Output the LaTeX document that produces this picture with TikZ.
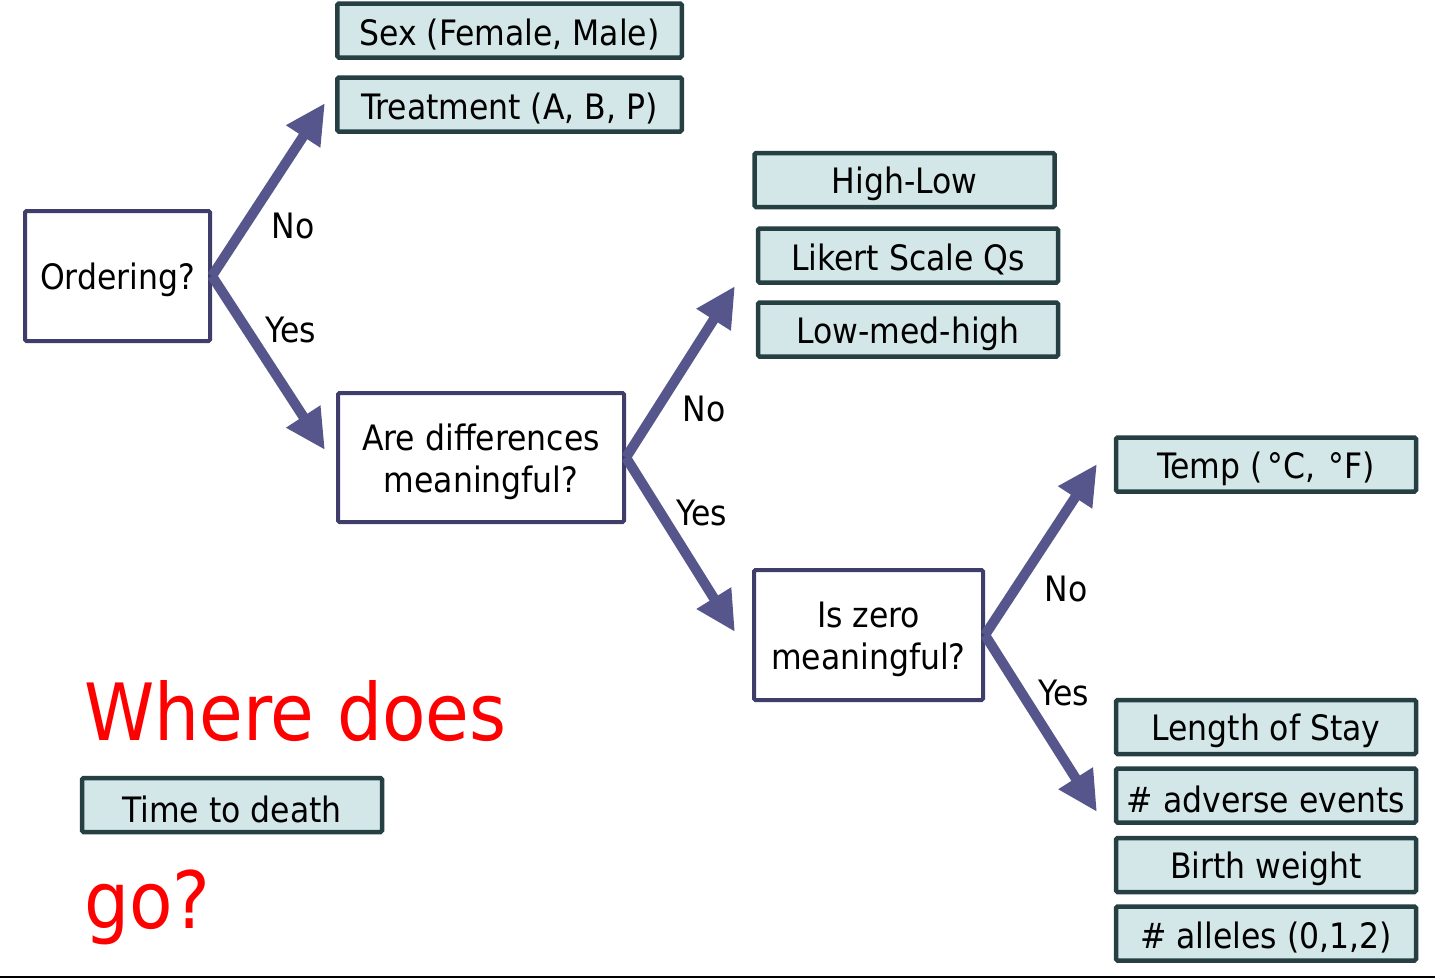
\documentclass[tikz,border=0pt]{standalone}
\usepackage{fontspec}
\setmainfont{DejaVu Sans Condensed}
\usetikzlibrary{arrows.meta}
\definecolor{ansfill}{HTML}{D4E7E8}
\definecolor{ansdraw}{HTML}{253F43}
\definecolor{qdraw}{HTML}{3F3D6A}
\definecolor{arrcol}{HTML}{56568C}
\newcommand\lowtxt[1]{\raisebox{-4pt}[\height][\depth]{#1}}
\begin{document}
\begin{tikzpicture}[x=1pt,y=-1pt,
  every node/.style={font=\fontsize{35}{42}\selectfont, inner sep=0pt, align=center},
  ans/.style={draw=ansdraw, fill=ansfill, line width=4.5pt, minimum width=300pt, minimum height=54pt, rounded corners=1.5pt},
  ques/.style={draw=qdraw, fill=white, line width=4pt, rounded corners=1.5pt},
  arr/.style={draw=arrcol, line width=10pt, -{Triangle[length=40pt,width=38pt]}},
  lbl/.style={text=black},
  red/.style={text=red, font=\fontsize{79}{90}\selectfont}
]
\useasboundingbox (0,0) rectangle (1435,978);
% question boxes
\node[ques, minimum width=185pt, minimum height=130pt] (ord) at (117.5,276) {\lowtxt{Ordering?}};
\node[ques, minimum width=286pt, minimum height=129pt] (diff) at (481,457.5) {\lowtxt{Are differences}\\\lowtxt{meaningful?}};
\node[ques, minimum width=229pt, minimum height=130pt] (zero) at (868.5,635) {\lowtxt{Is zero}\\\lowtxt{meaningful?}};
% answer boxes
\node[ans, minimum width=344.5pt] (sex) at (509.5,30.5) {\lowtxt{Sex (Female, Male)}};
\node[ans, minimum width=344.5pt] (trt) at (509.5,104.5) {\lowtxt{Treatment (A, B, P)}};
\node[ans] (hl) at (904.5,180) {\lowtxt{High-Low}};
\node[ans] (lik) at (908,255.5) {\lowtxt{Likert Scale Qs}};
\node[ans] (lmh) at (908,329.5) {\lowtxt{Low-med-high}};
\node[ans] (temp) at (1266,464.5) {\lowtxt{Temp (\hspace{5pt}°C, \hspace{3pt}°F)}};
\node[ans] (los) at (1266,727) {\lowtxt{Length of Stay}};
\node[ans] (adv) at (1266,795.5) {\lowtxt{\# adverse events}};
\node[ans] (bw) at (1266,865) {\lowtxt{Birth weight}};
\node[ans] (all) at (1266,933.5) {\lowtxt{\# alleles (0,1,2)}};
\node[ans] (ttd) at (232,805) {\lowtxt{Time to death}};
% arrow end points
\coordinate (a1) at (325,103);
\coordinate (a2) at (325,450);
\coordinate (b1) at (735,286);
\coordinate (b2) at (735,632);
\coordinate (c1) at (1097,464);
\coordinate (c2) at (1097,812);
\draw[arr] (ord.east) -- (a1);
\draw[arr] (ord.east) -- (a2);
\draw[arr] (diff.east) -- (b1);
\draw[arr] (diff.east) -- (b2);
\draw[arr] (zero.east) -- (c1);
\draw[arr] (zero.east) -- (c2);
% labels
\node[lbl] (n1) at (293,226) {No};
\node[lbl] (y1) at (291,330) {Yes};
\node[lbl] (n2) at (704,409) {No};
\node[lbl] (y2) at (702,513) {Yes};
\node[lbl] (n3) at (1066,589) {No};
\node[lbl] (y3) at (1064,693) {Yes};
% red text
\node[red, anchor=base west] (where) at (84,740) {Where does};
\node[red, anchor=base west] (go) at (84,928) {go?};
% bottom rule
\coordinate (l0) at (0,976.5);
\coordinate (l1) at (1435,976.5);
\draw[line width=2pt, black] (l0) -- (l1);
\end{tikzpicture}
\end{document}
